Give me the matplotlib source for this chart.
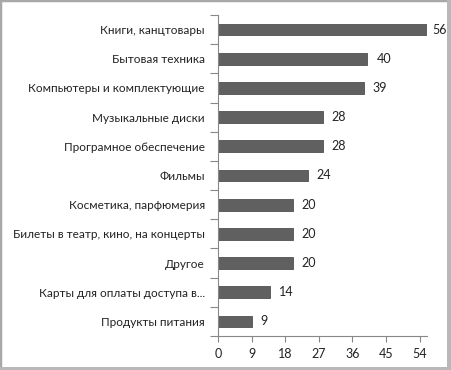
import matplotlib
matplotlib.use("Agg")
import matplotlib.pyplot as plt
from matplotlib.patches import Rectangle

categories = [
    "Книги, канцтовары",
    "Бытовая техника",
    "Компьютеры и комплектующие",
    "Музыкальные диски",
    "Програмное обеспечение",
    "Фильмы",
    "Косметика, парфюмерия",
    "Билеты в театр, кино, на концерты",
    "Другое",
    "Карты для оплаты доступа в...",
    "Продукты питания",
]
values = [56, 40, 39, 28, 28, 24, 20, 20, 20, 14, 9]
xticks = [0, 9, 18, 27, 36, 45, 54]

plt.rcParams['font.family'] = ['Lato', 'DejaVu Sans']
FS = 8.5
W, H = 451, 370
fig = plt.figure(figsize=(W / 100, H / 100), dpi=100)
ax = fig.add_axes([218 / W, 1 - 336 / H, (427 - 218) / W, (336 - 15) / H])

n = len(categories)
ypos = list(range(n))
ax.barh(ypos, values, height=0.4, color="#606060", edgecolor="#505050", linewidth=0.6)
ax.set_ylim(n - 0.5, -0.5)
xmax = 56
ax.set_xlim(0, xmax)
ax.set_xticks(xticks)
ax.set_xticklabels([str(t) for t in xticks], fontsize=9, color="#222222")
ax.set_yticks(ypos)
ax.set_yticklabels(categories, fontsize=FS, color="#222222")
ax.tick_params(axis="y", length=0, pad=9.5)
ax.set_yticks([i - 0.5 for i in range(n + 1)], minor=True)
ax.tick_params(axis="y", which="minor", length=6, width=0.8, color="#888888", direction="out")
ax.tick_params(axis="x", length=4, width=0.8, color="#888888", direction="out", pad=5)

for s in ["top", "right"]:
    ax.spines[s].set_visible(False)
for s in ["left", "bottom"]:
    ax.spines[s].set_color("#888888")
    ax.spines[s].set_linewidth(0.8)

for y, v in zip(ypos, values):
    off = 6.5 if v < xmax else 3.5
    ax.annotate(str(v), (v, y), xytext=(off, 0), textcoords="offset points",
                va="center", ha="left", fontsize=9, color="#222222")

# outer frame with shadow
fig.patches.append(Rectangle((0, 0), 1, 1, transform=fig.transFigure,
                             fill=False, edgecolor="#a8a8a8", linewidth=2.5))
fig.patches.append(Rectangle((1 - 4 / W, 0), 4 / W, 1, transform=fig.transFigure,
                             facecolor="#b8b8b8", edgecolor="none"))
fig.patches.append(Rectangle((0, 0), 1, 3 / H, transform=fig.transFigure,
                             facecolor="#b8b8b8", edgecolor="none"))

fig.savefig("out.png", dpi=100)
